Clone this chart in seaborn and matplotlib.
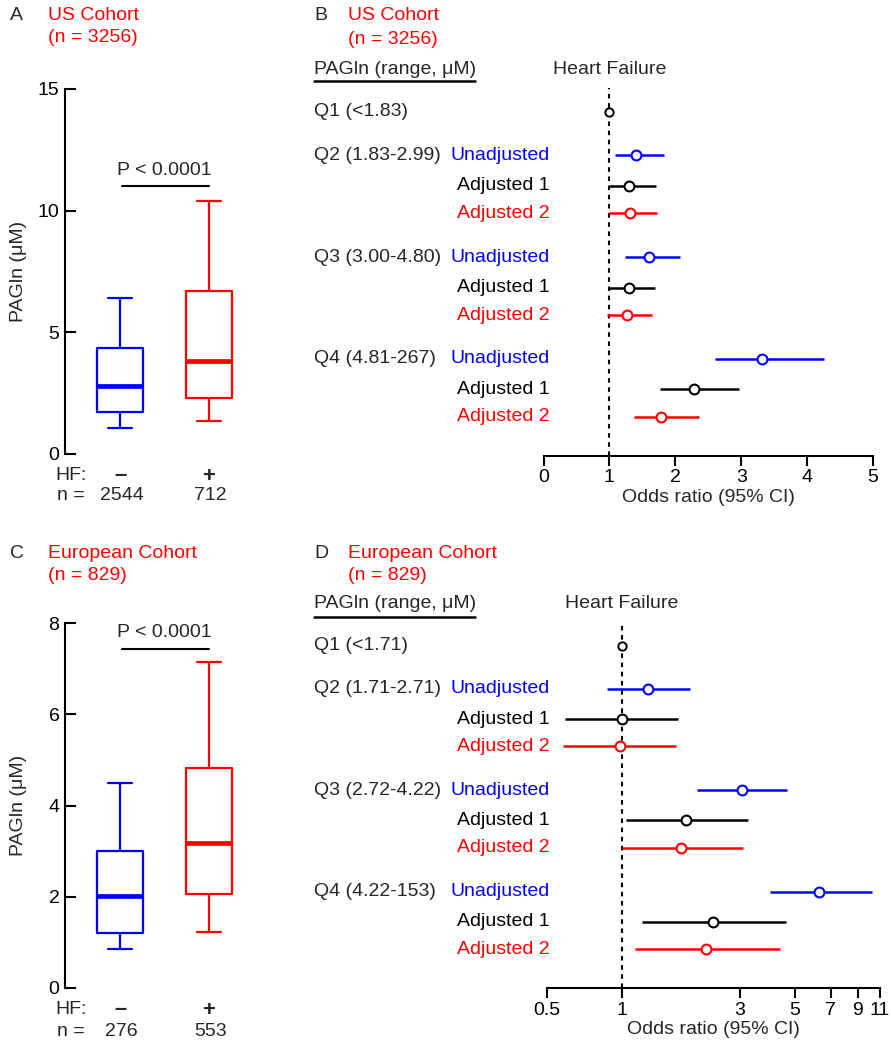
import numpy as np
import pandas as pd
import matplotlib
matplotlib.use("Agg")
import matplotlib.pyplot as plt
import matplotlib.transforms as mtransforms
from matplotlib.ticker import NullLocator
import seaborn as sns

# ---------------- data ----------------
hf_groups = ["–", "+"]
# five-number summaries: whisker low, Q1, median, Q3, whisker high
us_neg = [1.06, 1.71, 2.79, 4.37, 6.42]
us_pos = [1.34, 2.30, 3.84, 6.70, 10.40]
us_n = ["2544", "712"]
eu_neg = [0.84, 1.20, 2.02, 3.01, 4.50]
eu_pos = [1.22, 2.06, 3.18, 4.83, 7.15]
eu_n = ["276", "553"]

model_labels = ["Unadjusted", "Adjusted 1", "Adjusted 2"]
us_quartiles = ["Q1 (<1.83)", "Q2 (1.83-2.99)", "Q3 (3.00-4.80)", "Q4 (4.81-267)"]
us_or = [1.41, 1.29, 1.31, 1.60, 1.29, 1.26, 3.31, 2.28, 1.79]
us_lo = [1.09, 1.00, 1.00, 1.23, 1.00, 0.97, 2.61, 1.77, 1.37]
us_hi = [1.83, 1.70, 1.72, 2.07, 1.69, 1.65, 4.25, 2.96, 2.36]
eu_quartiles = ["Q1 (<1.71)", "Q2 (1.71-2.71)", "Q3 (2.72-4.22)", "Q4 (4.22-153)"]
eu_or = [1.28, 1.00, 0.99, 3.05, 1.82, 1.74, 6.29, 2.33, 2.19]
eu_lo = [0.875, 0.593, 0.582, 2.02, 1.04, 1.00, 3.96, 1.21, 1.13]
eu_hi = [1.89, 1.69, 1.66, 4.66, 3.24, 3.08, 10.3, 4.61, 4.36]

us_xticks = [0, 1, 2, 3, 4, 5]
eu_xticks = [0.5, 1, 3, 5, 7, 9, 11]

# ---------------- style ----------------
BLUE, RED, BLACK = "#0000FF", "#FF0000", "#000000"
box_colors = {hf_groups[0]: BLUE, hf_groups[1]: RED}
model_colors = [BLUE, BLACK, RED]
FS = 14

sns.set_style("white")
plt.rcParams["font.family"] = ["Liberation Sans", "DejaVu Sans"]
plt.rcParams["font.size"] = FS

W, H = 891, 1050
fig = plt.figure(figsize=(W / 100, H / 100), dpi=100)


def fx(px):
    return px / W


def fy(py):
    return 1 - py / H


def axes_px(x0, y0, x1, y1):
    return fig.add_axes([fx(x0), fy(y1), (x1 - x0) / W, (y1 - y0) / H])


# ---------------- box panels ----------------
def box_panel(ax, neg, pos, ymax, yticks, ns, y_hf, y_n, pbar_y, ptxt_y):
    df = pd.DataFrame({"HF": [hf_groups[0]] * 5 + [hf_groups[1]] * 5,
                       "PAGln": neg + pos})
    sns.boxplot(data=df, x="HF", y="PAGln", hue="HF", palette=box_colors,
                fill=False, whis=(0, 100), width=0.52, linewidth=1.6,
                medianprops={"linewidth": 3.4}, legend=False,
                showfliers=False, ax=ax)
    ax.set_xlim(-0.618, 1.573)
    ax.set_ylim(0, ymax)
    ax.set_yticks(yticks)
    ax.set_xticks([])
    ax.set_xlabel("")
    for s in ["top", "right", "bottom"]:
        ax.spines[s].set_visible(False)
    ax.spines["left"].set_linewidth(1.5)
    ax.spines["left"].set_color("black")
    ax.tick_params(axis="y", direction="in", length=8, width=1.5,
                   labelsize=FS, pad=4, colors="black", left=True)
    ax.set_ylabel("PAGln (μM)", fontsize=FS)
    ax.yaxis.set_label_coords(-0.195, 0.5)
    ax.patch.set_alpha(0)
    # significance bar
    ax.plot([0.02, 1.0], [pbar_y, pbar_y], color="black", lw=1.5)
    ax.text(0.5, ptxt_y, "P < 0.0001", ha="center", va="center", fontsize=FS)
    # group labels under the axis
    tr = mtransforms.blended_transform_factory(ax.transData, fig.transFigure)
    fig.text(fx(55), fy(y_hf), "HF:", ha="left", va="center", fontsize=FS)
    fig.text(fx(57), fy(y_n), "n =", ha="left", va="center", fontsize=FS)
    for i, (g, n) in enumerate(zip(hf_groups, ns)):
        ax.text(i, fy(y_hf), g, transform=tr, ha="center", va="center",
                fontsize=FS + 2, fontweight="bold")
        ax.text(i + 0.02, fy(y_n), n, transform=tr, ha="center", va="center",
                fontsize=FS)


axA = axes_px(65, 89, 260, 454)
box_panel(axA, us_neg, us_pos, 15, [0, 5, 10, 15], us_n, 476, 496, 11.0, 11.67)
axC = axes_px(65, 623.3, 260, 987.7)
box_panel(axC, eu_neg, eu_pos, 8, [0, 2, 4, 6, 8], eu_n, 1010, 1031, 7.44, 7.80)

# ---------------- forest panels ----------------
group_start = [1.45 + 3.41 * g for g in range(3)]
row_offsets = [0.0, 1.02, 1.94]


def forest_panel(ax, quartiles, orv, lo, hi, xticks, log, y_head, y_line):
    ypos = [gs + o for gs in group_start for o in row_offsets]
    models = model_labels * 3
    cols = model_colors * 3
    ax.axvline(1, color="black", lw=1.5, ls=(0, (2.2, 2.2)), zorder=1)
    ax.hlines(ypos, lo, hi, colors=cols, lw=1.8, zorder=2)
    ref = pd.DataFrame({"OR": [1.0], "row": [0.0]})
    sns.scatterplot(data=ref, x="OR", y="row", s=36, facecolor="white",
                    edgecolor=BLACK, linewidth=1.4, zorder=3, ax=ax)
    df = pd.DataFrame({"OR": orv, "row": ypos, "model": models})
    for m, c in zip(model_labels, model_colors):
        sub = df[df["model"] == m]
        sns.scatterplot(data=sub, x="OR", y="row", s=50, facecolor="white",
                        edgecolor=c, linewidth=1.5, zorder=4, ax=ax)
    if log:
        ax.set_xscale("log")
        ax.set_xlim(0.5, 11)
    else:
        ax.set_xlim(0, 5)
    ax.set_xticks(xticks)
    ax.set_xticklabels([f"{t:g}" for t in xticks])
    ax.xaxis.set_minor_locator(NullLocator())
    ax.set_ylim(11.5, -0.8)
    ax.set_yticks([])
    ax.set_ylabel("")
    for s in ["top", "right", "left"]:
        ax.spines[s].set_visible(False)
    ax.spines["bottom"].set_linewidth(1.5)
    ax.spines["bottom"].set_color("black")
    ax.tick_params(axis="x", direction="out", length=7, width=1.5,
                   labelsize=FS, pad=3, colors="black", bottom=True)
    ax.set_xlabel("Odds ratio (95% CI)", fontsize=FS, labelpad=2)
    ax.patch.set_alpha(0)
    # headers
    fig.text(fx(314), fy(y_head), "PAGln (range, μM)", ha="left", va="center",
             fontsize=FS)
    fig.add_artist(plt.Line2D([fx(314), fx(475)], [fy(y_line), fy(y_line)],
                              color="black", lw=1.8))
    trh = mtransforms.blended_transform_factory(ax.transData, fig.transFigure)
    ax.text(1, fy(y_head), "Heart Failure", transform=trh, ha="center",
            va="center", fontsize=FS)
    # row labels
    tr = mtransforms.blended_transform_factory(fig.transFigure, ax.transData)
    ax.text(fx(314), 0.0, quartiles[0], transform=tr, ha="left", va="center",
            fontsize=FS)
    for g in range(3):
        ax.text(fx(314), group_start[g], quartiles[g + 1], transform=tr,
                ha="left", va="center", fontsize=FS)
    for y, m, c in zip(ypos, models, cols):
        ax.text(fx(550), y, m, transform=tr, ha="right", va="center",
                fontsize=FS, color=c)


axB = axes_px(543.5, 88, 873, 455.5)
forest_panel(axB, us_quartiles, us_or, us_lo, us_hi, us_xticks, False, 69, 81)
axD = axes_px(547, 621.7, 879.5, 987.7)
forest_panel(axD, eu_quartiles, eu_or, eu_lo, eu_hi, eu_xticks, True, 603, 617)

# ---------------- panel titles ----------------
titles = [("A", 10, 48, 16, 38, "US Cohort", "(n = 3256)"),
          ("B", 314, 348, 16, 39, "US Cohort", "(n = 3256)"),
          ("C", 10, 48, 553, 575, "European Cohort", "(n = 829)"),
          ("D", 314, 348, 553, 575, "European Cohort", "(n = 829)")]
for letter, xl, xt, y1, y2, t1, t2 in titles:
    fig.text(fx(xl), fy(y1), letter, ha="left", va="center", fontsize=FS)
    fig.text(fx(xt), fy(y1), t1, ha="left", va="center", fontsize=FS, color=RED)
    fig.text(fx(xt), fy(y2), t2, ha="left", va="center", fontsize=FS, color=RED)

fig.savefig("out.png", dpi=100, facecolor="white")
